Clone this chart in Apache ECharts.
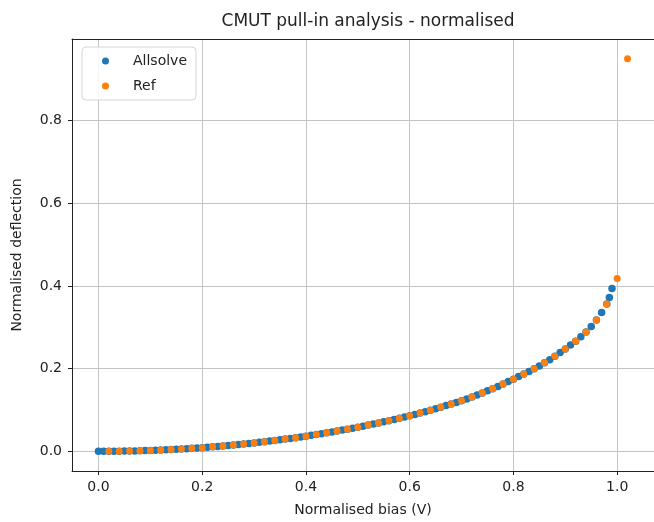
<!DOCTYPE html>
<html>
<head>
<meta charset="utf-8">
<script src="https://cdn.jsdelivr.net/npm/echarts@6/dist/echarts.min.js"></script>
<style>
  html, body { margin: 0; padding: 0; background: #fff; }
  #chart { width: 654px; height: 522px; }
</style>
</head>
<body>
<div id="chart"></div>
<script>
// Allsolve: normalised bias and deflection
const allsolveX = [0.00,0.01,0.02,0.03,0.04,0.05,0.06,0.07,0.08,0.09,0.10,0.11,0.12,0.13,0.14,0.15,0.16,0.17,0.18,0.19,
  0.20,0.21,0.22,0.23,0.24,0.25,0.26,0.27,0.28,0.29,0.30,0.31,0.32,0.33,0.34,0.35,0.36,0.37,0.38,0.39,
  0.40,0.41,0.42,0.43,0.44,0.45,0.46,0.47,0.48,0.49,0.50,0.51,0.52,0.53,0.54,0.55,0.56,0.57,0.58,0.59,
  0.60,0.61,0.62,0.63,0.64,0.65,0.66,0.67,0.68,0.69,0.70,0.71,0.72,0.73,0.74,0.75,0.76,0.77,0.78,0.79,
  0.80,0.81,0.82,0.83,0.84,0.85,0.86,0.87,0.88,0.89,0.90,0.91,0.92,0.93,0.94,0.95,0.96,0.97,0.98,0.985,0.99];
const allsolveY = [0.0000,0.0000,0.0001,0.0002,0.0004,0.0006,0.0008,0.0011,0.0014,0.0018,0.0022,0.0027,0.0032,0.0038,0.0044,0.0051,0.0058,0.0065,0.0073,0.0081,
  0.0090,0.0099,0.0109,0.0119,0.0130,0.0141,0.0153,0.0165,0.0178,0.0191,0.0204,0.0218,0.0233,0.0248,0.0264,0.0280,0.0297,0.0314,0.0331,0.0349,
  0.0368,0.0387,0.0407,0.0427,0.0448,0.0470,0.0492,0.0514,0.0537,0.0561,0.0585,0.0610,0.0635,0.0662,0.0688,0.0715,0.0743,0.0772,0.0801,0.0830,
  0.0860,0.0893,0.0926,0.0961,0.0995,0.1032,0.1069,0.1107,0.1146,0.1185,0.1225,0.1269,0.1316,0.1363,0.1413,0.1464,0.1517,0.1572,0.1629,0.1687,
  0.1747,0.1808,0.1869,0.1932,0.1997,0.2066,0.2141,0.2218,0.2300,0.2390,0.2479,0.2570,0.2666,0.2770,0.2889,0.3020,0.3180,0.3360,0.3563,0.3720,0.3940];

// Ref: normalised bias and deflection
const refX = [0.02,0.04,0.06,0.08,0.10,0.12,0.14,0.16,0.18,0.20,0.22,0.24,0.26,0.28,0.30,0.32,0.34,0.36,0.38,0.40,
  0.42,0.44,0.46,0.48,0.50,0.52,0.54,0.56,0.58,0.60,0.62,0.64,0.66,0.68,0.70,0.72,0.74,0.76,0.78,0.80,
  0.82,0.84,0.86,0.88,0.90,0.92,0.94,0.96,0.98,1.00,1.02];
const refY = [0.0001,0.0004,0.0008,0.0014,0.0022,0.0032,0.0044,0.0058,0.0073,0.0090,0.0109,0.0130,0.0153,0.0178,0.0204,0.0233,0.0264,0.0297,0.0331,0.0368,
  0.0407,0.0448,0.0492,0.0537,0.0585,0.0635,0.0688,0.0743,0.0801,0.0860,0.0926,0.0995,0.1069,0.1146,0.1225,0.1316,0.1413,0.1517,0.1629,0.1747,
  0.1869,0.1997,0.2141,0.2300,0.2479,0.2666,0.2889,0.3180,0.3563,0.4180,0.9500];

const xTicks = [0.0, 0.2, 0.4, 0.6, 0.8, 1.0];
const yTicks = [0.0, 0.2, 0.4, 0.6, 0.8];

const FONT = 'DejaVu Sans';
const allData = allsolveX.map((x, i) => [x, allsolveY[i]]);
const refData = refX.map((x, i) => [x, refY[i]]);

const chart = echarts.init(document.getElementById('chart'), null, { renderer: 'canvas' });
chart.setOption({
  animation: false,
  backgroundColor: '#ffffff',
  textStyle: { fontFamily: FONT },
  title: {
    text: 'CMUT pull-in analysis - normalised',
    left: 363, top: 8, textAlign: 'center',
    textStyle: { fontFamily: FONT, fontSize: 17, fontWeight: 'normal', color: '#222' }
  },
  grid: { left: 72, top: 39, right: -1, bottom: 50, containLabel: false, show: false },
  legend: {
    orient: 'vertical', left: 82, top: 47,
    padding: [6, 9, 6, 20],
    itemWidth: 7, itemHeight: 7, itemGap: 9,
    icon: 'circle',
    borderColor: '#d5d5d5', borderWidth: 1, borderRadius: 4,
    backgroundColor: 'rgba(255,255,255,0.85)',
    textStyle: { fontFamily: FONT, fontSize: 14, color: '#222', padding: [0, 0, 0, 19], lineHeight: 16 },
    data: ['Allsolve', 'Ref']
  },
  xAxis: [{
    type: 'value', min: -0.051, max: 1.071, interval: 0.2,
    name: 'Normalised bias (V)', nameLocation: 'middle', nameGap: 32,
    nameTextStyle: { fontFamily: FONT, fontSize: 14, color: '#222' },
    axisLine: { show: true, onZero: false, lineStyle: { color: '#222', width: 1 } },
    axisTick: { show: true, inside: false, length: 4, lineStyle: { color: '#222' }, customValues: xTicks },
    axisLabel: { fontFamily: FONT, fontSize: 14, color: '#222', margin: 9, customValues: xTicks,
      formatter: v => v.toFixed(1) },
    splitLine: { show: true, lineStyle: { color: '#c4c4c4', width: 1 } }
  }, {
    type: 'value', position: 'top', min: -0.051, max: 1.071,
    axisLine: { show: true, onZero: false, lineStyle: { color: '#222', width: 1 } },
    axisTick: { show: false }, axisLabel: { show: false }, splitLine: { show: false }
  }],
  yAxis: {
    type: 'value', min: -0.0475, max: 0.9975, interval: 0.2,
    name: 'Normalised deflection', nameLocation: 'middle', nameGap: 48,
    nameTextStyle: { fontFamily: FONT, fontSize: 14, color: '#222' },
    axisLine: { show: true, onZero: false, lineStyle: { color: '#222', width: 1 } },
    axisTick: { show: true, inside: false, length: 4, lineStyle: { color: '#222' }, customValues: yTicks },
    axisLabel: { fontFamily: FONT, fontSize: 14, color: '#222', margin: 10, customValues: yTicks,
      formatter: v => v.toFixed(1) },
    splitLine: { show: true, lineStyle: { color: '#c4c4c4', width: 1 } }
  },
  series: [
    { name: 'Allsolve', type: 'scatter', data: allData, symbol: 'circle', symbolSize: 7.5,
      itemStyle: { color: '#1f77b4', opacity: 1 }, z: 2 },
    { name: 'Ref', type: 'scatter', data: refData, symbol: 'circle', symbolSize: 7,
      itemStyle: { color: '#ff7f0e', opacity: 1 }, z: 3 }
  ]
});
</script>
</body>
</html>
